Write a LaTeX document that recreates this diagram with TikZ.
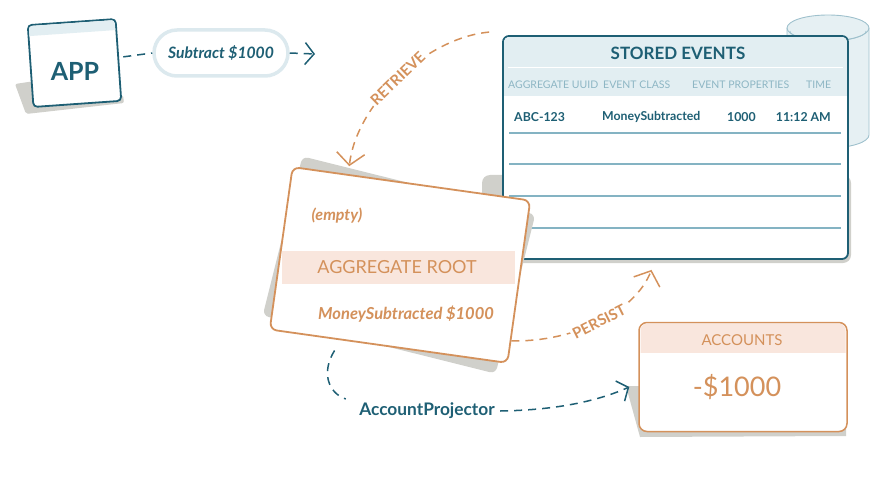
\documentclass[tikz,border=0pt]{standalone}
\usepackage{fontspec}
\setmainfont{Lato}
\usetikzlibrary{arrows.meta,calc}
\definecolor{cteal}{HTML}{1E5F74}
\definecolor{clteal}{HTML}{8DB6C4}
\definecolor{chdr}{HTML}{E2EEF2}
\definecolor{crule}{HTML}{84B3C3}
\definecolor{corange}{HTML}{D4915B}
\definecolor{cpink}{HTML}{F9E6DD}
\definecolor{cshadow}{HTML}{D0D0CB}
\definecolor{cpill}{HTML}{DCE9EE}
\definecolor{ccylfill}{HTML}{E6F0F3}
\definecolor{ccylline}{HTML}{9FC1CD}
\begin{document}
\begin{tikzpicture}[x=1pt,y=-1pt,
  tdash/.style={draw=cteal, line width=1.5pt, dash pattern=on 8pt off 6pt},
  odash/.style={draw=corange, line width=1.5pt, dash pattern=on 8pt off 6pt},
  ttip/.style={-{Straight Barb[length=9pt,width=22pt,line width=1.5pt]}},
  otip/.style={-{Straight Barb[length=12pt,width=28pt,line width=1.5pt]}},
  lbl/.style={font=\bfseries\fontsize{15}{17}\selectfont, text=corange, fill=white, inner sep=2pt},
  colhead/.style={font=\fontsize{10.5}{12}\selectfont, text=clteal, anchor=west, inner sep=0},
  rowtext/.style={font=\bfseries\fontsize{12.3}{14}\selectfont, text=cteal, anchor=west, inner sep=0},
]
\useasboundingbox (0,0) rectangle (880,478);

% cylinder behind stored events
\fill[ccylfill] (787,28) -- (787,135) arc[start angle=180,end angle=360,x radius=41pt,y radius=13pt] -- (869,28) arc[start angle=0,end angle=180,x radius=41pt,y radius=13pt] -- cycle;
\draw[ccylline, line width=0.9pt] (787,28) -- (787,135) arc[start angle=180,end angle=360,x radius=41pt,y radius=13pt] -- (869,28);
\draw[ccylline, line width=0.9pt] (828,28) ellipse [x radius=41pt, y radius=13pt];
\draw[ccylline, line width=0.6pt] (790,31) arc[start angle=180,end angle=360,x radius=38pt,y radius=10pt];

% stored events
\fill[cshadow, rounded corners=8] (482,175) rectangle (851,263);
\node[draw=cteal, line width=1.8pt, fill=white, rounded corners=6, minimum width=345, minimum height=223, inner sep=0] (se) at (675.5,147.5) {};
\begin{scope}
  \clip[rounded corners=5] (504,37) rectangle (847,258);
  \fill[chdr] (504,37) rectangle (847,96);
\end{scope}
\draw[white, line width=0.8pt] (508,67) -- (843,67);
\node[font=\bfseries\fontsize{17}{20}\selectfont, text=cteal] (setitle) at (678,53) {STORED EVENTS};
\node[colhead] (h1) at (508,85) {AGGREGATE UUID};
\node[colhead] (h2) at (603,85) {EVENT CLASS};
\node[colhead] (h3) at (692,85) {EVENT PROPERTIES};
\node[colhead] (h4) at (806,85) {TIME};
\node[rowtext] (r1) at (514,117) {ABC-123};
\node[rowtext] (r2) at (602,117) {MoneySubtracted};
\node[rowtext] (r3) at (727,117) {1000};
\node[rowtext, anchor=east] (r4) at (831,117) {11:12 AM};
\draw[crule, line width=1.6pt] (509,133) -- (841,133);
\draw[crule, line width=1.1pt] (509,164) -- (841,164);
\draw[crule, line width=1.6pt] (509,196) -- (841,196);
\draw[crule, line width=1.1pt] (509,228) -- (841,228);

% APP box
\fill[cshadow, rounded corners=2] (15,84) -- (35,81) -- (123,95) -- (124,103) -- (26,114) -- cycle;
\node[draw=cteal, line width=1.8pt, fill=white, rounded corners=4, rotate=4, minimum width=88, minimum height=82, inner sep=0] (app) at (74.5,63) {};
\begin{scope}[shift={(74.5,63)}, rotate=4]
  \clip[rounded corners=3] (-43,-40) rectangle (43,40);
  \fill[chdr] (-43,-40) rectangle (43,-30);
\end{scope}
\node[font=\bfseries\fontsize{25}{28}\selectfont, text=cteal] (apptext) at (75,71) {APP};

% command pill
\node[draw=cpill, line width=3.5pt, fill=white, rounded corners=23, minimum width=134, minimum height=46, inner sep=0,
      font=\bfseries\itshape\fontsize{15.7}{18}\selectfont, text=cteal] (cmd) at (221,53) {Subtract \$1000};
\coordinate (cmdend) at (315,54);
\draw[tdash] ($(app.east)+(4,-3)$) -- (cmd.west);
\draw[tdash, ttip] (cmd.east) -- (cmdend);

% aggregate root card
\node[fill=cshadow, rounded corners=6, rotate=-14, minimum width=240, minimum height=164, inner sep=0] (aggshadow) at (399,265) {};
\node[draw=corange, line width=1.8pt, fill=white, rounded corners=7, rotate=-8, minimum width=240, minimum height=164, inner sep=0] (agg) at (400,265) {};
\fill[cpink] (282,251) rectangle (515,284);
\node[font=\bfseries\itshape\fontsize{16}{18}\selectfont, text=corange] (empty) at (337,216) {(empty)};
\node[font=\fontsize{18}{20}\selectfont, text=corange] (aggtitle) at (397,267) {AGGREGATE ROOT};
\node[font=\bfseries\itshape\fontsize{16.5}{19}\selectfont, text=corange] (aggevt) at (406,314) {MoneySubtracted \$1000};

% accounts
\fill[cshadow] (626,386) -- (645,386) -- (645,425) -- (846,425) -- (846,436) -- (640,437) -- cycle;
\node[draw=corange, line width=1.5pt, fill=white, rounded corners=8, minimum width=208, minimum height=109, inner sep=0] (acc) at (743,377) {};
\begin{scope}
  \clip[rounded corners=7] (640.5,323.5) rectangle (845.5,430.5);
  \fill[cpink] (640,323) rectangle (846,353);
\end{scope}
\node[font=\fontsize{15}{17}\selectfont, text=corange] (acctitle) at (742,340) {ACCOUNTS};
\node[font=\fontsize{27}{31}\selectfont, text=corange] (accval) at (737,387) {-\$1000};

% projector
\node[font=\bfseries\fontsize{17.3}{20}\selectfont, text=cteal] (proj) at (427,411) {AccountProjector};

% RETRIEVE
\draw[odash, otip] ($(se.north west)+(-13,-3)$) .. controls (425,38) and (356,105) .. ($(agg.north west)!0.48!(agg.north)+(0,-8)$)
  node[pos=0.5, sloped, lbl] {RETRIEVE};
% PERSIST
\draw[odash, otip] ($(agg.east)!0.72!(agg.south east)$) .. controls (575,342) and (635,312) .. ($(se.south)+(-24,10)$)
  node[pos=0.5, sloped, lbl] {PERSIST};
% projector connectors
\draw[tdash] ($(agg.south)!0.45!(agg.south west)+(0,11)$) .. controls (321,372) and (328,393) .. ($(proj.west)+(-10,-12)$);
\draw[tdash, ttip] ($(proj.east)+(2,0)$) .. controls (560,410) and (600,400) .. ($(acc.west)+(-9,10)$);
\end{tikzpicture}
\end{document}
